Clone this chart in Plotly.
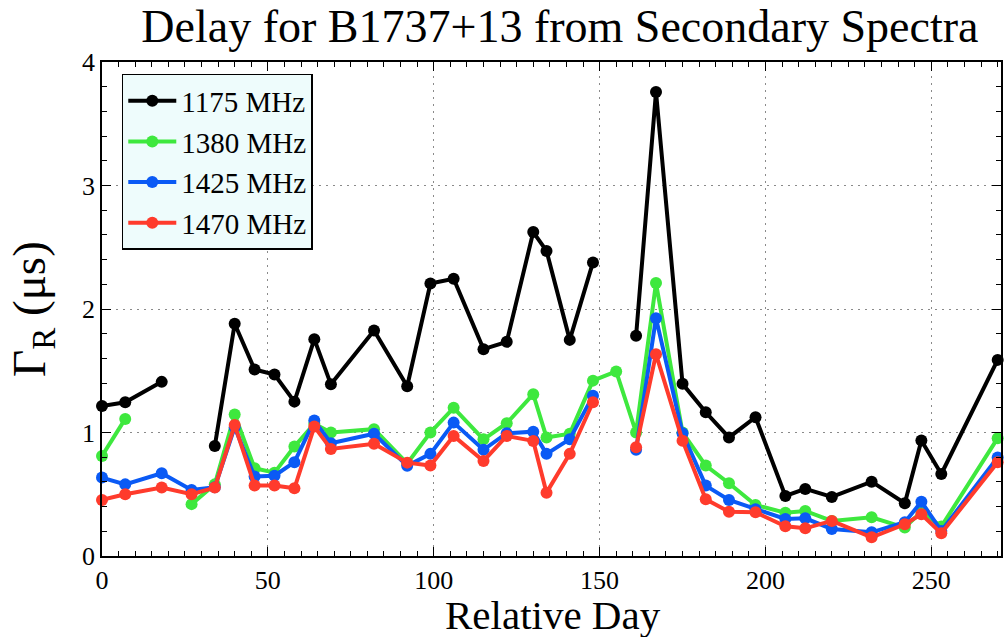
import plotly.graph_objects as go

# Relative observing day
days = [0, 7, 18, 27, 34, 40, 46, 52, 58, 64, 69, 82, 92, 99, 106, 115, 122, 130,
        134, 141, 148, 155, 161, 167, 175, 182, 189, 197, 206, 212, 220, 232, 242,
        247, 253, 270]

# Scattering delay Gamma_R (microseconds) per observing band; None = no measurement
delay_1175 = [1.215, 1.245, 1.41, None, 0.89, 1.88, 1.51, 1.47, 1.25, 1.756, 1.39,
              1.826, 1.375, 2.207, 2.245, 1.675, 1.734, 2.623, 2.47, 1.75, 2.377, None,
              1.783, 3.758, 1.394, 1.164, 0.96, 1.124, 0.486, 0.543, 0.478, 0.602,
              0.427, 0.935, 0.664, 1.588]
delay_1380 = [0.81, 1.11, None, 0.42, 0.58, 1.145, 0.71, 0.675, 0.886, 1.07, 1.0,
              1.027, 0.75, 1.0, 1.2, 0.945, 1.075, 1.31, 0.96, 0.99, 1.42, 1.494,
              1.0, 2.21, 1.0, 0.732, 0.589, 0.413, 0.35, 0.365, 0.284, 0.313, 0.23,
              0.36, 0.238, 0.954]
delay_1425 = [0.635, 0.58, 0.67, 0.535, 0.557, 1.043, 0.643, 0.65, 0.76, 1.097, 0.913,
              0.99, 0.73, 0.827, 1.08, 0.86, 0.994, 1.007, 0.827, 0.946, 1.297, None,
              0.86, 1.926, 0.994, 0.57, 0.454, 0.378, 0.3, 0.305, 0.219, 0.192, 0.273,
              0.44, 0.203, 0.797]
delay_1470 = [0.454, 0.5, 0.554, 0.5, 0.554, 1.06, 0.57, 0.57, 0.548, 1.048, 0.867,
              0.908, 0.756, 0.732, 0.972, 0.77, 0.972, 0.932, 0.513, 0.827, 1.245, None,
              0.88, 1.634, 0.934, 0.459, 0.359, 0.354, 0.24, 0.224, 0.284, 0.151, 0.257,
              0.338, 0.184, 0.76]

series = [
    ("1175 MHz", delay_1175, "#000000"),
    ("1380 MHz", delay_1380, "#3ee83e"),
    ("1425 MHz", delay_1425, "#0a5af5"),
    ("1470 MHz", delay_1470, "#ff3b2c"),
]

FONT = "Liberation Serif, Times New Roman, serif"

fig = go.Figure()
for name, vals, color in series:
    fig.add_trace(go.Scatter(
        x=days, y=vals, name=name, mode="lines+markers",
        line=dict(color=color, width=4),
        marker=dict(color=color, size=12),
        connectgaps=False, cliponaxis=False,
    ))

axis_common = dict(
    showline=True, linecolor="black", linewidth=1.5, mirror="allticks",
    ticks="inside", ticklen=9, tickwidth=1.2, tickcolor="black",
    showgrid=True, gridcolor="#8a8a8a", gridwidth=1, griddash="2px,5px",
    zeroline=False,
    tickfont=dict(family=FONT, size=26, color="black"),
)

fig.update_xaxes(
    range=[0, 271], dtick=50, tick0=0,
    minor=dict(dtick=5, ticks="inside", ticklen=5, tickcolor="black", showgrid=False),
    **axis_common,
)
fig.update_yaxes(
    range=[0, 4], dtick=1, tick0=0,
    minor=dict(dtick=0.2, ticks="inside", ticklen=5, tickcolor="black", showgrid=False),
    **axis_common,
)

fig.update_layout(
    width=1007, height=637,
    margin=dict(l=102, r=4, t=62, b=81),
    paper_bgcolor="white", plot_bgcolor="white",
    font=dict(family=FONT, color="black"),
    title=dict(
        text="Delay for B1737+13 from Secondary Spectra",
        font=dict(family=FONT, size=46, color="black"),
        x=0.556, xanchor="center", y=0.985, yanchor="top",
    ),
    legend=dict(
        x=0.022, y=0.976, xanchor="left", yanchor="top",
        bgcolor="#eefcfc", bordercolor="black", borderwidth=1.5,
        font=dict(family=FONT, size=29, color="black"),
        tracegroupgap=0, itemwidth=48,
    ),
    showlegend=True,
    annotations=[
        dict(
            text="Γ<sub>R</sub> (μs)", textangle=-90,
            xref="paper", yref="paper", x=-0.078, y=0.5,
            xanchor="center", yanchor="middle", showarrow=False,
            font=dict(family=FONT, size=47, color="black"),
        ),
        dict(
            text="Relative Day",
            xref="paper", yref="paper", x=0.502, y=-0.068,
            xanchor="center", yanchor="top", showarrow=False,
            font=dict(family=FONT, size=41, color="black"),
        ),
    ],
)

fig.write_html("out.html")
